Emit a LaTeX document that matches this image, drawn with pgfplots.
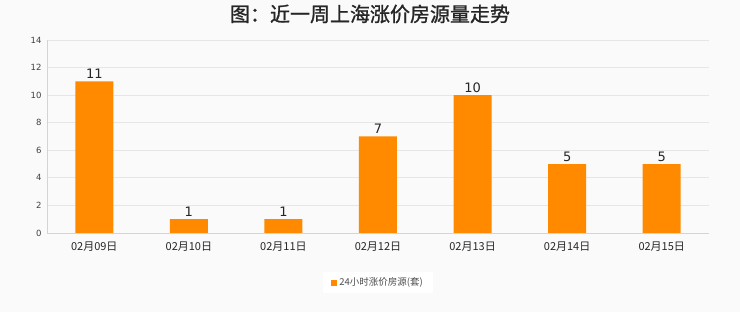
\documentclass[border=0pt]{standalone}
\usepackage{pgfplots}
\pgfplotsset{compat=1.18}
\usepackage{fontspec}
\setmainfont{DejaVu Sans}
\newfontfamily\cjk{Noto Sans CJK SC}
\newfontfamily\cjktitle{Noto Sans CJK SC}[FakeBold=1.2]
\definecolor{bar}{HTML}{FF8A00}
\definecolor{bg}{HTML}{FAFAFA}
\definecolor{gridc}{HTML}{E6E6E6}
\begin{document}
\begin{tikzpicture}[x=1pt,y=1pt]
\fill[bg] (0,0) rectangle (740,312);
\node[font=\cjktitle\fontsize{20}{22}\selectfont, text=black!85] at (370,298) {图：近一周上海涨价房源量走势};
\begin{axis}[
  at={(47pt,79pt)}, anchor=south west,
  scale only axis, width=662pt, height=193pt,
  xmin=-0.5, xmax=6.5, ymin=0, ymax=14,
  ytick={0,2,...,14},
  xtick={0,...,6},
  xticklabels={02月09日,02月10日,02月11日,02月12日,02月13日,02月14日,02月15日},
  xticklabel style={font=\cjk\fontsize{11}{12}\selectfont, text=black!85, yshift=-5pt},
  yticklabel style={font=\fontsize{8.5}{9}\selectfont, text=black!75, xshift=-2pt},
  /pgf/number format/assume math mode=true,
  ymajorgrids, grid style={gridc, line width=0.8pt},
  axis x line*=bottom, axis y line*=left,
  axis line style={gridc!80!black!60, line width=0.8pt},
  x axis line style={-}, y axis line style={-},
  major tick length=0pt,
  tick style={draw=none},
  axis background/.style={fill=bg},
  legend style={at={(0.5,-0.2)}, anchor=north, draw=none, fill=white,
    font=\cjk\fontsize{9.5}{10}\selectfont, text=black!70, legend columns=1,
    inner xsep=8pt, inner ysep=4pt},
  legend image code/.code={\fill[bar] (-6pt,-3pt) rectangle (0pt,3pt);},
  nodes near coords,
  every node near coord/.append style={font=\fontsize{13}{14}\selectfont, text=black!85, yshift=-1pt},
]
\addplot[ybar, bar width=38pt, fill=bar, draw=none] coordinates {
 (0,11) (1,1) (2,1) (3,7) (4,10) (5,5) (6,5)
};
\addlegendentry{24小时涨价房源(套)}
\end{axis}
\end{tikzpicture}
\end{document}
